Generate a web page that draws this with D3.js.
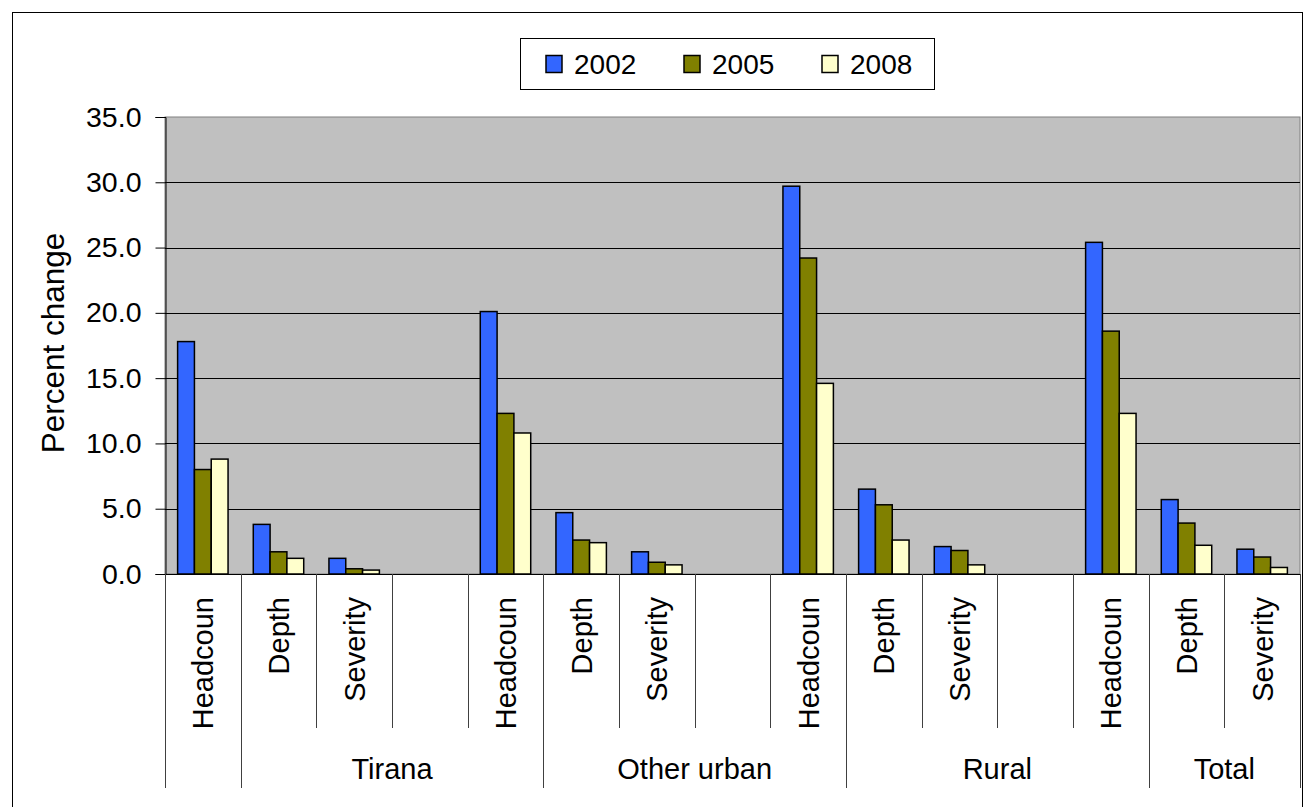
<!DOCTYPE html>
<html>
<head>
<meta charset="utf-8">
<script src="https://cdn.jsdelivr.net/npm/d3@7"></script>
<style>
  html, body { margin: 0; padding: 0; background: #ffffff; }
  svg { display: block; }
  text { font-family: "Liberation Sans", Arial, sans-serif; fill: #000; }
</style>
</head>
<body>
<svg id="chart" width="1306" height="807"></svg>
<script>
// Poverty measures by area: headcount, depth and severity for three survey years
const slotLabels = ["Headcoun", "Depth", "Severity", "",
                    "Headcoun", "Depth", "Severity", "",
                    "Headcoun", "Depth", "Severity", "",
                    "Headcoun", "Depth", "Severity"];
const years = ["2002", "2005", "2008"];
const values2002 = [17.8, 3.8, 1.2, null, 20.1, 4.7, 1.7, null, 29.7, 6.5, 2.1, null, 25.4, 5.7, 1.9];
const values2005 = [8.0, 1.7, 0.4, null, 12.3, 2.6, 0.9, null, 24.2, 5.3, 1.8, null, 18.6, 3.9, 1.3];
const values2008 = [8.8, 1.2, 0.3, null, 10.8, 2.4, 0.7, null, 14.6, 2.6, 0.7, null, 12.3, 2.2, 0.5];
// Area groups as spans of slot indices [first, last]
const groupNames = ["", "Tirana", "Other urban", "Rural", "Total"];
const groupSpans = [[0, 0], [1, 4], [5, 8], [9, 12], [13, 14]];
const yTicks = [0, 5, 10, 15, 20, 25, 30, 35];
const seriesColors = ["#3366FF", "#808000", "#FFFFCC"];

const seriesValues = [values2002, values2005, values2008];

const svg = d3.select("#chart");
const plot = { left: 165, right: 1300, top: 117, bottom: 574 };

// Outer chart frame
svg.append("rect")
  .attr("x", 12.5).attr("y", 12.5)
  .attr("width", 1290).attr("height", 820)
  .attr("fill", "#fff").attr("stroke", "#000").attr("stroke-width", 1);

const slots = slotLabels.map((d, i) => i);
const x0 = d3.scaleBand().domain(slots).range([plot.left, plot.right]).padding(0);
const x1 = d3.scaleBand().domain(years).range([0, x0.bandwidth()])
  .paddingInner(0).paddingOuter(0.75);
const y = d3.scaleLinear().domain([0, 35]).range([plot.bottom, plot.top]);
const color = d3.scaleOrdinal().domain(years).range(seriesColors);

// Plot background
svg.append("rect")
  .attr("x", plot.left).attr("y", plot.top)
  .attr("width", plot.right - plot.left).attr("height", plot.bottom - plot.top)
  .attr("fill", "#C0C0C0").attr("stroke", "#808080").attr("stroke-width", 1);

// Gridlines
svg.append("g")
  .selectAll("line")
  .data(yTicks.filter(t => t > 0 && t < 35))
  .join("line")
  .attr("x1", plot.left).attr("x2", plot.right)
  .attr("y1", d => Math.round(y(d)) + 0.5).attr("y2", d => Math.round(y(d)) + 0.5)
  .attr("stroke", "#000").attr("stroke-width", 1);

// Y axis
const yAxis = d3.axisLeft(y).tickValues(yTicks).tickFormat(d3.format(".1f"))
  .tickSize(10).tickPadding(14);
const yg = svg.append("g").attr("transform", `translate(${plot.left + 0.5},0)`).call(yAxis);
yg.select(".domain").attr("stroke", "#000");
yg.selectAll(".tick line").attr("stroke", "#000");
yg.selectAll(".tick text")
  .style("font-family", "'Liberation Sans', Arial, sans-serif")
  .style("font-size", "28.5px").attr("fill", "#000");

// Y axis title
svg.append("text")
  .attr("transform", `translate(64,343) rotate(-90)`)
  .attr("text-anchor", "middle")
  .style("font-size", "31.5px")
  .text("Percent change");

// Bars
const rows = slots.map(i => ({ slot: i, vals: years.map((yr, k) => ({ year: yr, value: seriesValues[k][i] })) }));
svg.append("g")
  .selectAll("g")
  .data(rows)
  .join("g")
  .attr("transform", d => `translate(${x0(d.slot)},0)`)
  .selectAll("rect")
  .data(d => d.vals.filter(v => v.value != null))
  .join("rect")
  .attr("x", d => x1(d.year))
  .attr("y", d => y(d.value))
  .attr("width", x1.bandwidth())
  .attr("height", d => y(0) - y(d.value))
  .attr("fill", d => color(d.year))
  .attr("stroke", "#000").attr("stroke-width", 1.5);

// X axis baseline
svg.append("line")
  .attr("x1", plot.left).attr("x2", plot.right)
  .attr("y1", plot.bottom + 0.5).attr("y2", plot.bottom + 0.5)
  .attr("stroke", "#000").attr("stroke-width", 1);

// Category separators: group boundaries run longer
const groupEdges = new Set(groupSpans.map(s => s[0]).concat([slots.length]));
const boundaries = d3.range(slots.length + 1);
svg.append("g")
  .selectAll("line")
  .data(boundaries)
  .join("line")
  .attr("x1", i => Math.round(i < slots.length ? x0(i) : plot.right) + 0.5)
  .attr("x2", i => Math.round(i < slots.length ? x0(i) : plot.right) + 0.5)
  .attr("y1", plot.bottom)
  .attr("y2", i => groupEdges.has(i) ? 788 : 728)
  .attr("stroke", "#404040").attr("stroke-width", 1);

// Category labels
svg.append("g")
  .selectAll("text")
  .data(slots.filter(i => slotLabels[i] !== ""))
  .join("text")
  .attr("transform", i => `translate(${x0(i) + x0.bandwidth() / 2},597) rotate(-90)`)
  .attr("text-anchor", "end")
  .attr("dy", "0.36em")
  .style("font-size", "29px")
  .text(i => slotLabels[i]);

// Group labels
svg.append("g")
  .selectAll("text")
  .data(groupNames.map((n, k) => ({ name: n, span: groupSpans[k] })).filter(g => g.name !== ""))
  .join("text")
  .attr("x", g => (x0(g.span[0]) + x0(g.span[1]) + x0.bandwidth()) / 2)
  .attr("y", 779)
  .attr("text-anchor", "middle")
  .style("font-size", "29px")
  .text(g => g.name);

// Legend
const legend = svg.append("g");
legend.append("rect")
  .attr("x", 520.5).attr("y", 38.5).attr("width", 414).attr("height", 51)
  .attr("fill", "#fff").attr("stroke", "#000").attr("stroke-width", 1);
const legendX = d3.scalePoint().domain(years).range([546, 822]);
const items = legend.selectAll("g.item").data(years).join("g")
  .attr("class", "item")
  .attr("transform", d => `translate(${legendX(d)},0)`);
items.append("rect")
  .attr("x", 0).attr("y", 55.5).attr("width", 16).attr("height", 17)
  .attr("fill", d => color(d)).attr("stroke", "#000").attr("stroke-width", 1.5);
items.append("text")
  .attr("x", 28).attr("y", 74)
  .style("font-size", "28px")
  .text(d => d);
</script>
</body>
</html>
